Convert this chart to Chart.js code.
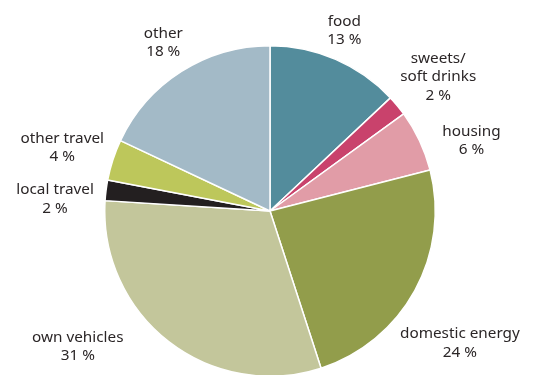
<!DOCTYPE html>
<html>
<head>
<meta charset="utf-8">
<script src="https://cdn.jsdelivr.net/npm/chart.js@4/dist/chart.umd.min.js"></script>
<style>
  html, body { margin: 0; padding: 0; background: #fff; overflow: hidden; }
  #wrap { width: 533px; height: 377px; }
</style>
</head>
<body>
<div id="wrap"><canvas id="pie"></canvas></div>
<script>
const categories = ['food', 'sweets/\nsoft drinks', 'housing', 'domestic energy', 'own vehicles', 'local travel', 'other travel', 'other'];
const shares = [13, 2, 6, 24, 31, 2, 4, 18];
const colors = ['#538c9c', '#c9426c', '#e19ca7', '#929d4b', '#c3c69b', '#231f20', '#bdc75b', '#a3bac7'];

// distance of each label beyond the rim, and a small angle nudge (degrees)
const labelGap = [30, 50, 48, 66, 70, 50, 52, 34];
const labelNudge = [-1, 1, 6, 6, 17, -4, -1, 0];

const outsideLabels = {
  id: 'outsideLabels',
  afterDatasetsDraw(chart) {
    const ctx = chart.ctx;
    const arcs = chart.getDatasetMeta(0).data;
    ctx.save();
    ctx.font = '15.3px "Noto Sans", sans-serif';
    ctx.fillStyle = '#2b2627';
    ctx.textAlign = 'center';
    ctx.textBaseline = 'middle';
    arcs.forEach((arc, i) => {
      const { x, y, startAngle, endAngle, outerRadius } = arc.getProps(['x', 'y', 'startAngle', 'endAngle', 'outerRadius'], true);
      const mid = (startAngle + endAngle) / 2 + labelNudge[i] * Math.PI / 180;
      const r = outerRadius + labelGap[i];
      const lines = categories[i].split('\n').concat(shares[i] + ' %');
      const lh = 18.5;
      const cx = x + Math.cos(mid) * r;
      const cy = y + Math.sin(mid) * r - (lines.length - 1) * lh / 2;
      lines.forEach((t, j) => ctx.fillText(t, cx, cy + j * lh));
    });
    ctx.restore();
  }
};

new Chart(document.getElementById('pie'), {
  type: 'pie',
  data: {
    labels: categories,
    datasets: [{
      data: shares,
      backgroundColor: colors,
      borderColor: '#ffffff',
      borderWidth: 1.5,
    }],
  },
  options: {
    responsive: true,
    maintainAspectRatio: false,
    animation: false,
    layout: { padding: { top: 45, bottom: 0, left: 104, right: 97 } },
    plugins: {
      legend: { display: false },
      tooltip: { enabled: false },
    },
  },
  plugins: [outsideLabels],
});
</script>
</body>
</html>
